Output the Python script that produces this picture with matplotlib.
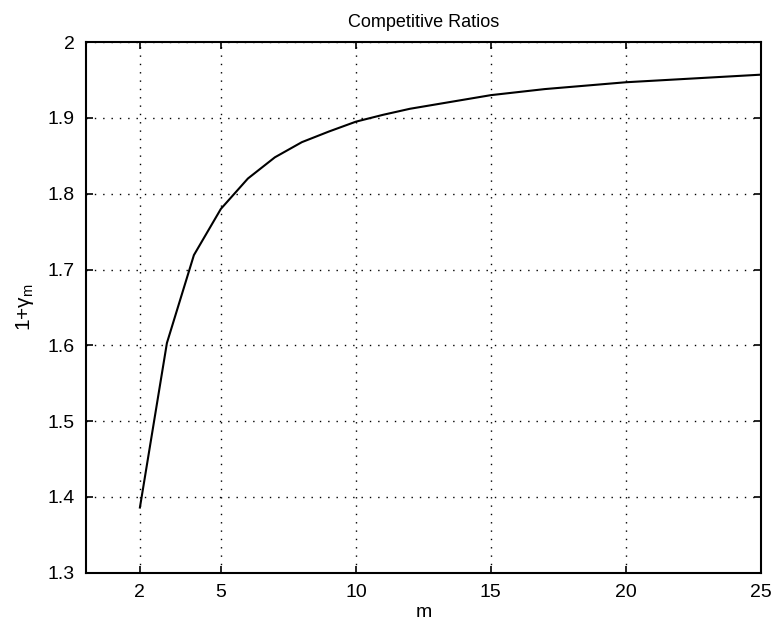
import matplotlib
matplotlib.use("Agg")
import matplotlib.pyplot as plt

m_values = [2, 3, 4, 5, 6, 7, 8, 9, 10, 11, 12, 13, 14, 15, 16, 17, 18, 19, 20, 21, 22, 23, 24, 25]
ratios = [1.386, 1.603, 1.719, 1.780, 1.820, 1.848, 1.868, 1.882, 1.895, 1.904, 1.912, 1.918,
          1.924, 1.930, 1.934, 1.938, 1.941, 1.944, 1.947, 1.949, 1.951, 1.953, 1.955, 1.957]
x_ticks = [2, 5, 10, 15, 20, 25]
y_ticks = [1.3, 1.4, 1.5, 1.6, 1.7, 1.8, 1.9, 2.0]
y_tick_labels = ["1.3", "1.4", "1.5", "1.6", "1.7", "1.8", "1.9", "2"]

plt.rcParams['font.family'] = ['Liberation Sans', 'DejaVu Sans']
plt.rcParams['mathtext.fontset'] = 'custom'
plt.rcParams['mathtext.rm'] = 'Liberation Sans'
plt.rcParams['mathtext.it'] = 'Liberation Sans:italic'

fig = plt.figure(figsize=(7.74, 6.28), dpi=100)
ax = fig.add_axes([0.111, 0.088, 0.872, 0.845])

ax.plot(m_values, ratios, color='black', linewidth=1.5)

ax.set_xlim(0, 25)
ax.set_ylim(1.3, 2.0)
ax.set_xticks(x_ticks)
ax.set_yticks(y_ticks)
ax.set_yticklabels(y_tick_labels)
ax.tick_params(direction='in', top=True, right=True, labelsize=14, length=5, width=1.2, pad=8)
ax.grid(True, linestyle=(0, (1, 5)), color='black', linewidth=1.0)
for s in ax.spines.values():
    s.set_linewidth(1.5)

ax.set_title('Competitive Ratios', fontsize=13, pad=11)
ax.set_xlabel('m', fontsize=14, labelpad=2)
ax.set_ylabel('1+γ$_\\mathrm{m}$', fontsize=15, labelpad=8)

fig.savefig('out.png', dpi=100)
